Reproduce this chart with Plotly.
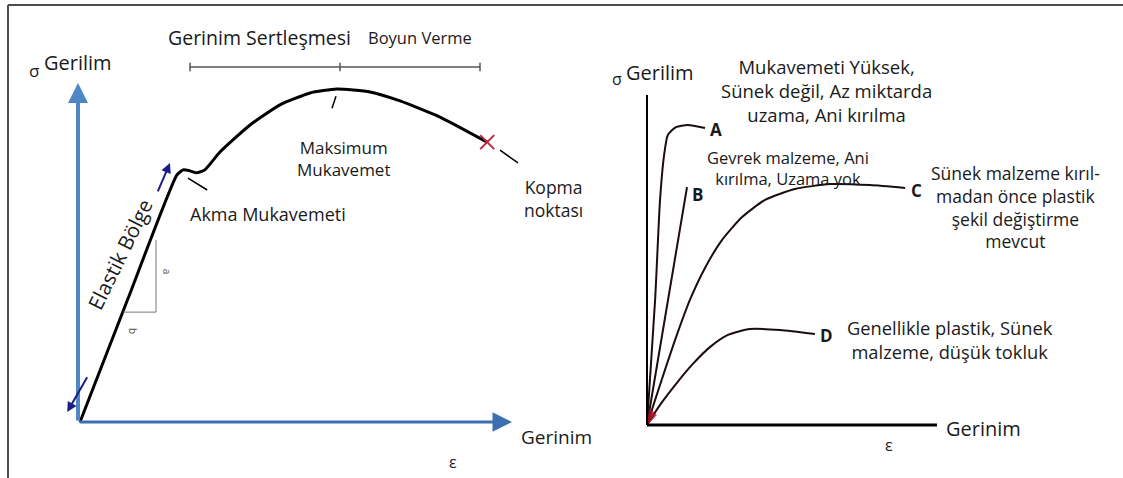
import plotly.graph_objects as go

# Left diagram: typical stress-strain curve (strain / stress, arbitrary units)
left_strain = [0, 12, 24.2, 25.8, 27.5, 29.2, 31.2, 35, 42.5, 50, 57.5, 64.2, 72.5, 80, 90, 101.8]
left_stress = [0, 37.4, 74.8, 76.4, 76.1, 75.5, 76.4, 81.8, 90, 96.1, 99.7, 100.9, 100, 97.3, 92.4, 84.8]
region_edges = [27.5, 65, 100]          # Gerinim Sertleşmesi | Boyun Verme
region_names = ["Gerinim Sertleşmesi", "Boyun Verme"]

# Right diagram: material types A-D
a_strain = [0, 2.8, 4.5, 5.9, 7.2, 10, 14.1, 20]
a_stress = [0, 37.9, 68.2, 81.8, 87.9, 90.3, 90.9, 90]
b_strain = [0, 13.8]
b_stress = [0, 72.1]
c_strain = [0, 2.8, 6.2, 10.3, 14.8, 20, 25.9, 32.8, 40.7, 51, 63.1, 76.9, 89]
c_stress = [0, 7.6, 16.7, 27.3, 37.9, 47.6, 56.1, 63.0, 68.2, 71.5, 73.0, 72.7, 71.8]
d_strain = [0, 4.5, 9.7, 15.5, 21.7, 27.9, 35.5, 45.9, 57.9]
d_stress = [0, 6.1, 12.1, 18.2, 23.6, 27.3, 29.1, 28.8, 27.6]
curve_labels = ["A", "B", "C", "D"]

FONT = "Open Sans"
W, H = 1123, 478

fig = go.Figure()

# left curve
fig.add_trace(go.Scatter(x=left_strain, y=left_stress, mode="lines", line=dict(color="black", width=3, shape="spline", smoothing=0.5),
                         xaxis="x", yaxis="y", hoverinfo="skip"))
# fracture point
fig.add_trace(go.Scatter(x=[left_strain[-1]], y=[left_stress[-1]], mode="markers",
                         marker=dict(symbol="x-thin", size=14, line=dict(color="#c0283a", width=2)),
                         xaxis="x", yaxis="y", hoverinfo="skip"))

# right curves
for xs, ys in [(a_strain, a_stress), (b_strain, b_stress), (c_strain, c_stress), (d_strain, d_stress)]:
    fig.add_trace(go.Scatter(x=xs, y=ys, mode="lines", line=dict(color="#1c0d0d", width=2, shape="spline", smoothing=0.6),
                             xaxis="x2", yaxis="y2", hoverinfo="skip"))
# little red fan at the origin
fig.add_trace(go.Scatter(x=[0, 1.0, 3.2, 0], y=[0, 5, 3, 0], mode="lines", fill="toself", fillcolor="#b0102a",
                         line=dict(color="#b0102a", width=1), opacity=0.8, xaxis="x2", yaxis="y2", hoverinfo="skip"))

ann = []
shapes = []

def txt(x, y, t, ref, size=17, angle=0, color="#1a1a1a", **kw):
    ann.append(dict(x=x, y=y, xref="x" if ref == 1 else "x2", yref="y" if ref == 1 else "y2", text=t, showarrow=False,
                    textangle=angle, font=dict(family=FONT, size=size, color=color), **kw))

def seg(x0, y0, x1, y1, ref, color="black", width=2):
    shapes.append(dict(type="line", x0=x0, y0=y0, x1=x1, y1=y1, xref="x" if ref == 1 else "x2",
                       yref="y" if ref == 1 else "y2", line=dict(color=color, width=width)))

def arrow(x0, y0, x1, y1, color, width, size=1.2, head=2):
    ann.append(dict(x=x1, y=y1, ax=x0, ay=y0, xref="x", yref="y", axref="x", ayref="y", text="",
                    showarrow=True, arrowhead=head, arrowsize=size, arrowwidth=width, arrowcolor=color))

# ---- left panel decorations
arrow(-0.5, 0, 108, 0, "#3c6fb0", 3, 1.3)
arrow(-0.5, 0, -0.5, 102.7, "#4f86c6", 4, 1.0)
arrow(19.3, 69.4, 22.5, 78.5, "#1c1c8a", 2, 1.0)
arrow(2, 14, -3.2, 3, "#1c1c8a", 2, 1.0)

bar_y = 107.6
seg(region_edges[0], bar_y, region_edges[-1], bar_y, 1, "#555555", 1.5)
for e in region_edges:
    seg(e, bar_y - 1.3, e, bar_y + 1.3, 1, "#555555", 1.5)
txt(44.8, 116.5, region_names[0], 1, 19.5)
txt(85, 116.5, region_names[1], 1, 16.5)

imax = left_stress.index(max(left_stress))
seg(left_strain[imax] - 0.2, left_stress[imax] - 2.2, left_strain[imax] - 1.2, left_stress[imax] - 5.8, 1, "black", 1.5)
txt(65.8, 80, "Maksimum<br>Mukavemet", 1, 17)
seg(27, 73.9, 31.8, 70.3, 1, "black", 1.5)
txt(47, 63, "Akma Mukavemeti", 1, 18)
seg(105, 82.4, 109.5, 78.5, 1, "black", 1.5)
txt(118.3, 67.7, "Kopma<br>noktası", 1, 17.5)

txt(-11.6, 106.6, "σ", 1, 17)
txt(-0.6, 108.8, "Gerilim", 1, 20)
txt(119, -4.5, "Gerinim", 1, 19)
txt(93.3, -12.2, "ε", 1, 16)
txt(10, 50.9, "Elastik Bölge", 1, 20.5, angle=-64)

seg(19, 55.1, 19, 33.3, 1, "#777777", 1)
seg(10.8, 33.3, 19, 33.3, 1, "#777777", 1)
txt(21.8, 45.5, "a", 1, 10, angle=90, color="#555555")
txt(13.3, 27.5, "b", 1, 10, angle=90, color="#555555")

# ---- right panel decorations
seg(0, 0, 0, 100, 2, "black", 2)
seg(0, 0, 100, 0, 2, "black", 3)
txt(-10.3, 104.8, "σ", 2, 16)
txt(4.5, 106.7, "Gerilim", 2, 20)
txt(116, -1, "Gerinim", 2, 20)
txt(83.4, -6, "ε", 2, 16)
label_dy = [-0.6, -2.4, -0.6, -0.6]
for lab, xs, ys, dy in zip(curve_labels, [a_strain, b_strain, c_strain, d_strain], [a_stress, b_stress, c_stress, d_stress], label_dy):
    txt(xs[-1] + 1.2, ys[-1] + dy, "<b>" + lab + "</b>", 2, 17, xanchor="left")
txt(62, 101.5, "Mukavemeti Yüksek,<br>Sünek değil, Az miktarda<br>uzama, Ani kırılma", 2, 18.5)
txt(48.6, 78, "Gevrek malzeme, Ani<br>kırılma, Uzama yok", 2, 16.5)
txt(126.9, 66, "Sünek malzeme kırıl-<br>madan önce plastik<br>şekil değiştirme<br>mevcut", 2, 17.5)
txt(104.5, 25.8, "Genellikle plastik, Sünek<br>malzeme, düşük tokluk", 2, 18.3)

# frame
shapes.append(dict(type="line", xref="paper", yref="paper", x0=8 / W, x1=1, y0=1 - 5 / H, y1=1 - 5 / H,
                   line=dict(color="#4d4d4d", width=2)))
shapes.append(dict(type="line", xref="paper", yref="paper", x0=8 / W, x1=8 / W, y0=0, y1=1 - 5 / H,
                   line=dict(color="#4d4d4d", width=2)))

ax_off = dict(visible=False, showgrid=False, zeroline=False, fixedrange=True)
fig.update_layout(
    width=W, height=H, margin=dict(l=0, r=0, t=0, b=0), showlegend=False,
    paper_bgcolor="white", plot_bgcolor="white",
    xaxis=dict(domain=[0, 0.5], range=[-20, 120.375], **ax_off),
    yaxis=dict(domain=[0, 1], range=[-16.97, 127.88], **ax_off),
    xaxis2=dict(domain=[0.5, 1], range=[-29.48, 164.14], anchor="y2", **ax_off),
    yaxis2=dict(domain=[0, 1], range=[-16.06, 128.79], anchor="x2", **ax_off),
    annotations=ann, shapes=shapes,
)

fig.write_html("out.html", config={"displayModeBar": False},
               post_script="document.body.style.margin='0px';")
